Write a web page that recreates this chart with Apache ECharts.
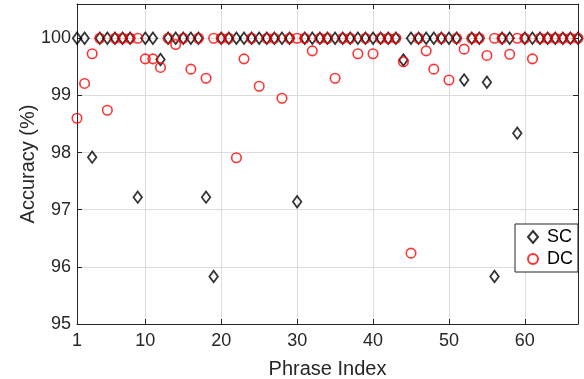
<!DOCTYPE html>
<html><head><meta charset="utf-8">
<script src="https://cdn.jsdelivr.net/npm/echarts@6/dist/echarts.min.js"></script>
<style>html,body{margin:0;padding:0;background:#fff}#c{width:584px;height:379px}</style>
</head><body><div id="c"></div>
<script>
const phraseIndex = Array.from({length: 67}, (_, i) => i + 1);
const scValues = [
  100, 100, 97.92, 100, 100, 100, 100, 100, 97.22, 100,
  100, 99.63, 100, 100, 100, 100, 100, 97.22, 95.83, 100,
  100, 100, 100, 100, 100, 100, 100, 100, 100, 97.14,
  100, 100, 100, 100, 100, 100, 100, 100, 100, 100,
  100, 100, 100, 99.62, 100, 100, 100, 100, 100, 100,
  100, 99.27, 100, 100, 99.23, 95.83, 100, 100, 98.34, 100,
  100, 100, 100, 100, 100, 100, 100
];
const dcValues = [
  98.60, 99.21, 99.73, 100, 98.74, 100, 100, 100, 100, 99.64,
  99.64, 99.49, 100, 99.89, 100, 99.46, 100, 99.30, 100, 100,
  100, 97.91, 99.64, 100, 99.16, 100, 100, 98.95, 100, 100,
  100, 99.78, 100, 100, 99.30, 100, 100, 99.73, 100, 99.73,
  100, 100, 100, 99.59, 96.24, 100, 99.78, 99.46, 100, 99.27,
  100, 99.81, 100, 100, 99.70, 100, 100, 99.72, 100, 100,
  99.64, 100, 100, 100, 100, 100, 100
];
const xTicks = [1, 10, 20, 30, 40, 50, 60];
const yTicks = [95, 96, 97, 98, 99, 100];

const FONT = '"Liberation Sans", Arial, Helvetica, sans-serif';
const AX = '#262626';
const chart = echarts.init(document.getElementById('c'), null, {renderer: 'canvas'});
const axisLine = {show: true, onZero: false, lineStyle: {color: AX, width: 1}};
function ticks(vals) {
  return {show: true, inside: true, length: 5, lineStyle: {color: AX, width: 1}, customValues: vals};
}
chart.setOption({
  animation: false,
  backgroundColor: '#fff',
  grid: {left: 77, right: 6, top: 4, bottom: 55, containLabel: false, outerBoundsMode: 'none'},
  legend: {
    orient: 'vertical', left: 515, top: 224,
    backgroundColor: '#fff', borderColor: AX, borderWidth: 1,
    padding: [3, 5, 3, 12], itemGap: 2, itemWidth: 10, itemHeight: 12,
    textStyle: {fontFamily: FONT, fontSize: 18, color: '#000', lineHeight: 20, padding: [0, 0, 0, 4]},
    data: ['SC', 'DC']
  },
  xAxis: [{
    type: 'value', min: 1, max: 67, position: 'bottom',
    axisLine, axisTick: ticks(xTicks),
    axisLabel: {customValues: xTicks, fontFamily: FONT, fontSize: 18, color: AX, margin: 8},
    splitLine: {show: true, lineStyle: {color: '#dcdcdc', width: 1}},
    name: 'Phrase Index', nameLocation: 'middle', nameGap: 35, nameMoveOverlap: false,
    nameTextStyle: {fontFamily: FONT, fontSize: 20, color: AX}
  }, {
    type: 'value', min: 1, max: 67, position: 'top',
    axisLine, axisTick: ticks(xTicks),
    axisLabel: {show: false}, splitLine: {show: false}
  }],
  yAxis: [{
    type: 'value', min: 95, max: 100.6, position: 'left',
    axisLine, axisTick: ticks(yTicks),
    axisLabel: {customValues: yTicks, fontFamily: FONT, fontSize: 18, color: AX, margin: 6},
    splitLine: {show: true, lineStyle: {color: '#dcdcdc', width: 1}},
    name: 'Accuracy (%)', nameLocation: 'middle', nameGap: 39, nameMoveOverlap: false,
    nameTextStyle: {fontFamily: FONT, fontSize: 20, color: AX}
  }, {
    type: 'value', min: 95, max: 100.6, position: 'right',
    axisLine, axisTick: ticks(yTicks),
    axisLabel: {show: false}, splitLine: {show: false}
  }],
  series: [{
    name: 'SC', type: 'scatter', symbol: 'diamond', symbolSize: [8.5, 11.5],
    clip: false,
    itemStyle: {color: 'rgba(0,0,0,0)', borderColor: '#000', borderWidth: 1.8},
    data: phraseIndex.map((x, i) => [x, scValues[i]])
  }, {
    name: 'DC', type: 'scatter', symbol: 'circle', symbolSize: 9.5,
    clip: false,
    itemStyle: {color: 'rgba(0,0,0,0)', borderColor: '#ff0000', borderWidth: 1.6},
    data: phraseIndex.map((x, i) => [x, dcValues[i]])
  }]
});
</script></body></html>
